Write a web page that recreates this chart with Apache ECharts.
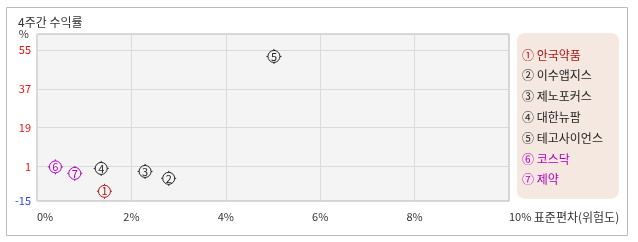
<!DOCTYPE html>
<html><head><meta charset="utf-8">
<script src="https://cdn.jsdelivr.net/npm/echarts@6/dist/echarts.min.js"></script>
<style>html,body{margin:0;padding:0;background:#fff}#c{width:638px;height:242px}</style>
</head><body><div id="c"></div>
<script>
const names = ['안국약품','이수앱지스','제노포커스','대한뉴팜','테고사이언스','코스닥','제약'];
const marks = ['①','②','③','④','⑤','⑥','⑦'];
const digits = ['1','2','3','4','5','6','7'];
const stdDev = [1.43, 2.79, 2.29, 1.36, 5.02, 0.39, 0.80];
const returns = [-10.5, -4.5, -1.3, 0.1, 52.0, 0.8, -2.2];
const colors = ['#aa1515','#222222','#222222','#222222','#222222','#b400c0','#b400c0'];
const yTicks = [-15, 1, 19, 37, 55];
const yTickColors = ['#3344ee','#ee1111','#ee1111','#ee1111','#ee1111'];
const xName = '표준편차(위험도)';

const FONT = '"Noto Sans CJK KR", "Noto Sans", sans-serif';
const sym = 'path://M13.5 7.5A6 6 0 1 1 1.5 7.5A6 6 0 1 1 13.5 7.5Z M7.5 0L7.5 1.5 M7.5 13.5L7.5 15 M0 7.5L1.5 7.5 M13.5 7.5L15 7.5';

const series = names.map((n, i) => ({
  name: n,
  type: 'scatter',
  symbol: sym,
  symbolSize: 15,
  itemStyle: { color: '#f4f4f4', borderColor: colors[i], borderWidth: 1, opacity: 1 },
  label: { show: true, position: 'inside', formatter: digits[i], color: colors[i], fontSize: 11, fontFamily: FONT },
  data: [[stdDev[i], returns[i]]],
  z: 5
}));
series.push({
  name: '_grid', type: 'scatter', data: [], silent: true,
  markLine: { silent: true, symbol: 'none', label: { show: false },
    lineStyle: { color: '#dadada', type: 'solid', width: 1 },
    data: yTicks.slice(1).map(v => ({ yAxis: v })) }
});

const chart = echarts.init(document.getElementById('c'), null, { renderer: 'canvas' });
chart.setOption({
  animation: false,
  textStyle: { fontFamily: FONT },
  title: { text: '4주간 수익률', left: 13, top: 11, textStyle: { fontSize: 12, fontWeight: 'normal', color: '#333', fontFamily: FONT } },
  graphic: [
    { type: 'rect', shape: { x: 6.5, y: 7.5, width: 621, height: 228 }, style: { fill: 'none', stroke: '#bbbbbb', lineWidth: 1 }, z: -10 }
  ],
  grid: { left: 37, top: 34, right: 129, bottom: 41, show: true, backgroundColor: '#f4f4f4', borderColor: '#b4b4b4', borderWidth: 1 },
  legend: {
    orient: 'vertical', left: 517, top: 33, selectedMode: false,
    data: names.map((n, i) => ({ name: n, textStyle: { color: colors[i] } })),
    formatter: n => marks[names.indexOf(n)] + ' ' + n,
    icon: 'none', itemWidth: 0, itemHeight: 12, itemGap: 8.8,
    padding: [16, 16, 13, 0],
    backgroundColor: '#f5e8e0', borderRadius: 8,
    textStyle: { fontSize: 12, fontFamily: FONT, lineHeight: 12 }
  },
  xAxis: {
    type: 'value', min: 0, max: 10, interval: 2,
    axisLine: { show: false }, axisTick: { show: false },
    splitLine: { show: true, lineStyle: { color: '#dadada' } },
    axisLabel: {
      margin: 10, fontSize: 11, color: '#333', alignMinLabel: 'left', alignMaxLabel: 'left',
      formatter: v => v === 10 ? '{a|10%} {b|' + xName + '}' : v + '%',
      rich: { a: { fontSize: 11, color: '#333', padding: [0, 0, 0, 0] }, b: { fontSize: 12, color: '#333' } }
    }
  },
  yAxis: {
    type: 'value', min: -15, max: 62.4,
    axisLine: { show: false }, axisTick: { show: false },
    splitLine: { show: false },
    axisLabel: { margin: 6, fontSize: 11, customValues: yTicks, color: (v) => yTickColors[yTicks.indexOf(Number(v))] || '#ee1111' },
    name: '%', nameLocation: 'end', nameGap: 0, nameMoveOverlap: false,
    nameTextStyle: { fontSize: 11, color: '#333', align: 'right', verticalAlign: 'middle', padding: [2, 8, 0, 0] }
  },
  series: series
});
</script></body></html>
